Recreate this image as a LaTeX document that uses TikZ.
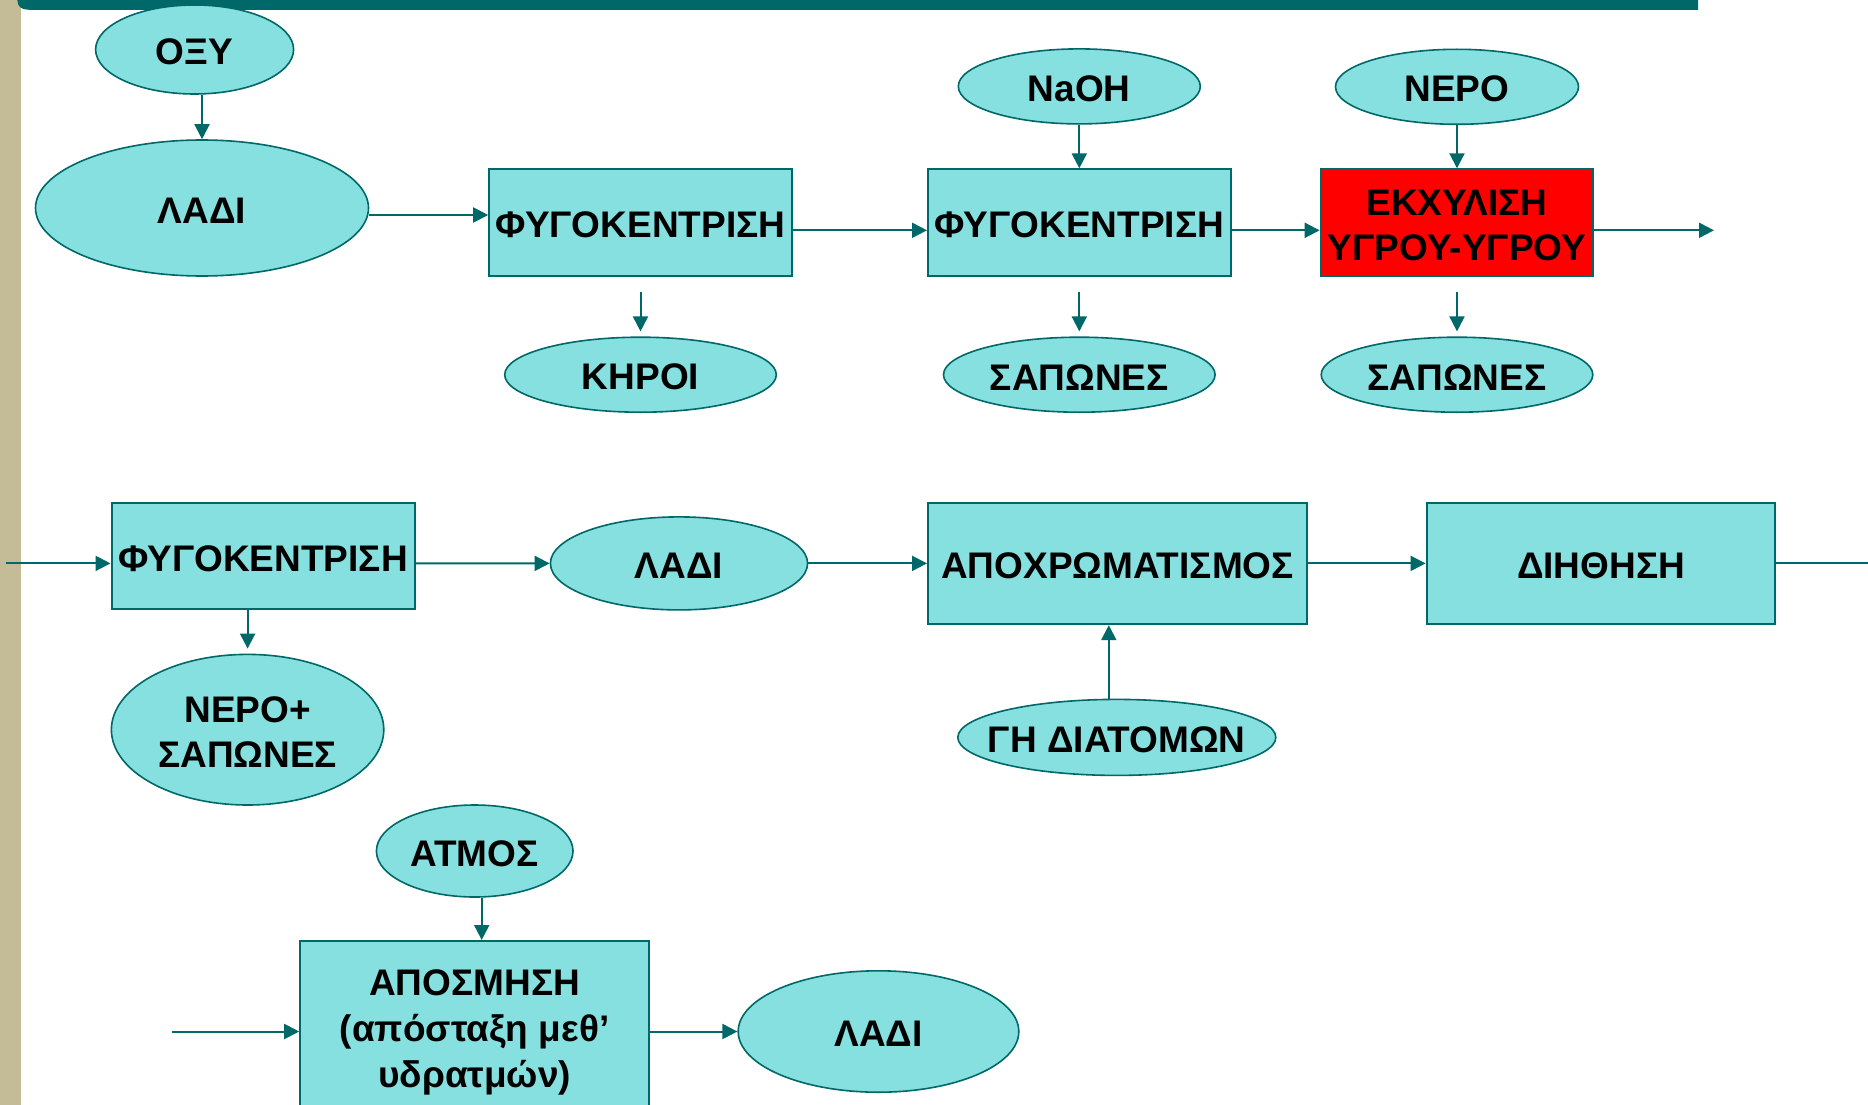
\documentclass[tikz,border=0pt]{standalone}
\usepackage{fontspec}
\setmainfont{Liberation Sans}
\usetikzlibrary{shapes.geometric,arrows.meta}
\definecolor{tealc}{RGB}{0,104,104}
\definecolor{cyanc}{RGB}{134,224,223}
\definecolor{beigec}{RGB}{196,188,150}
\definecolor{redc}{RGB}{255,0,0}
\begin{document}
\begin{tikzpicture}[x=1pt,y=-1pt,
  txt/.style={font=\fontsize{37}{44.5}\selectfont\bfseries, align=center, text=black, yshift=-2.4pt},
  ell/.style={ellipse, draw=tealc, fill=cyanc, line width=1.6pt, inner sep=0pt},
  boxn/.style={rectangle, draw=tealc, fill=cyanc, line width=2pt, inner sep=0pt},
  arr/.style={draw=tealc, line width=2pt, -{Triangle[length=15pt,width=15pt]}},
  ln/.style={draw=tealc, line width=2pt}]
\useasboundingbox (0,0) rectangle (1868,1105);
\fill[white] (0,0) rectangle (1868,1105);
% frame decorations
\fill[beigec] (0,0) rectangle (21,1105);
\fill[tealc] (1698,-30) -- (1698,10) -- (42,10) .. controls (17,10) .. (17,-12) -- (17,-30) -- cycle;

% row 1
\node[ell, minimum width=198pt, minimum height=89pt, label={[txt]center:ΟΞΥ}] (oxy) at (194.6,49.5) {};
\node[ell, minimum width=333pt, minimum height=136pt, label={[txt]center:ΛΑΔΙ}] (ladi1) at (202,208) {};
\node[boxn, minimum width=302.6pt, minimum height=107pt, label={[txt]center:ΦΥΓΟΚΕΝΤΡΙΣΗ}] (f1) at (640.5,222.8) {};
\node[boxn, minimum width=302.6pt, minimum height=107pt, label={[txt]center:ΦΥΓΟΚΕΝΤΡΙΣΗ}] (f2) at (1079.3,222.8) {};
\node[boxn, fill=redc, minimum width=272.7pt, minimum height=107pt, label={[txt]center:{ΕΚΧΥΛΙΣΗ\\ΥΓΡΟΥ-ΥΓΡΟΥ}}] (ekx) at (1457,222.8) {};
\node[ell, minimum width=242pt, minimum height=75pt, label={[txt]center:NaOH}] (naoh) at (1079.3,86.4) {};
\node[ell, minimum width=243pt, minimum height=75pt, label={[txt]center:ΝΕΡΟ}] (nero) at (1457,86.8) {};
\node[ell, minimum width=271.6pt, minimum height=75pt, label={[txt]center:ΚΗΡΟΙ}] (kiroi) at (640.5,374.7) {};
\node[ell, minimum width=271.6pt, minimum height=75pt, label={[txt]center:ΣΑΠΩΝΕΣ}] (sap1) at (1079.3,374.7) {};
\node[ell, minimum width=271.6pt, minimum height=75pt, label={[txt]center:ΣΑΠΩΝΕΣ}] (sap2) at (1457,374.7) {};

% row 2
\node[boxn, minimum width=303pt, minimum height=106.6pt, label={[txt]center:ΦΥΓΟΚΕΝΤΡΙΣΗ}] (f3) at (263,556.1) {};
\node[ell, minimum width=272.4pt, minimum height=150.6pt, label={[txt]center:{ΝΕΡΟ+\\ΣΑΠΩΝΕΣ}}] (nero2) at (247.6,729.7) {};
\node[ell, minimum width=257.2pt, minimum height=93pt, label={[txt]center:ΛΑΔΙ}] (ladi2) at (679,563.4) {};
\node[boxn, minimum width=378.9pt, minimum height=121.5pt, label={[txt]center:ΑΠΟΧΡΩΜΑΤΙΣΜΟΣ}] (apox) at (1117.5,563.4) {};
\node[boxn, minimum width=348.8pt, minimum height=121.5pt, label={[txt]center:ΔΙΗΘΗΣΗ}] (dih) at (1601,563.4) {};
\node[ell, minimum width=318pt, minimum height=76pt, label={[txt]center:ΓΗ ΔΙΑΤΟΜΩΝ}] (gi) at (1116.8,737.4) {};

% row 3
\node[ell, minimum width=196.6pt, minimum height=92pt, label={[txt]center:ΑΤΜΟΣ}] (atmos) at (474.7,851) {};
\node[boxn, minimum width=348.8pt, minimum height=172pt, label={[txt, font=\fontsize{37}{46}\selectfont\bfseries, yshift=-3.5pt]center:{ΑΠΟΣΜΗΣΗ\\(απόσταξη μεθ’\\υδρατμών)}}] (aposm) at (474.6,1027) {};
\node[ell, minimum width=280.6pt, minimum height=121.4pt, label={[txt]center:ΛΑΔΙ}] (ladi3) at (878.5,1031.5) {};

% connectors row 1
\draw[arr] (oxy.south -| ladi1.north) -- (ladi1.north);
\path ([yshift=-7pt]ladi1.east) coordinate (l1e);
\draw[arr] (l1e) -- (l1e -| f1.west);
\draw[arr] ([yshift=-7.5pt]f1.east) -- ([yshift=-7.5pt]f2.west);
\draw[arr] ([yshift=-7.5pt]f2.east) -- ([yshift=-7.5pt]ekx.west);
\coordinate (out1) at (1714,230.3);
\draw[arr] ([yshift=-7.5pt]ekx.east) -- (out1);
\draw[arr] (naoh.south) -- (f2.north);
\draw[arr] (nero.south) -- (ekx.north);
\draw[arr] ([yshift=-15pt]f1.south) -- ([yshift=5pt]kiroi.north);
\draw[arr] ([yshift=-15pt]f2.south) -- ([yshift=5pt]sap1.north);
\draw[arr] ([yshift=-15pt]ekx.south) -- ([yshift=5pt]sap2.north);

% connectors row 2
\coordinate (in2) at (6,563.4);
\draw[arr] (in2) -- (in2 -| f3.west);
\draw[arr] ([yshift=-7.3pt]f3.east) -- (ladi2.west);
\draw[arr] (ladi2.east) -- (apox.west);
\draw[arr] (apox.east) -- (dih.west);
\coordinate (out2) at (1868,563.4);
\draw[ln] (dih.east) -- (out2);
\draw[arr] (nero2.north |- f3.south) -- ([yshift=5pt]nero2.north);
\path ([xshift=-8pt]gi.north) coordinate (gtop);
\draw[arr] (gtop) -- (gtop |- apox.south);

% connectors row 3
\path ([xshift=7pt]atmos.south) coordinate (atb);
\draw[arr] (atb) -- (atb |- aposm.north);
\coordinate (in3) at (172,1031.5);
\draw[arr] (in3) -- (in3 -| aposm.west);
\draw[arr] ([yshift=-4.5pt]aposm.east) -- (ladi3.west);
\end{tikzpicture}
\end{document}
